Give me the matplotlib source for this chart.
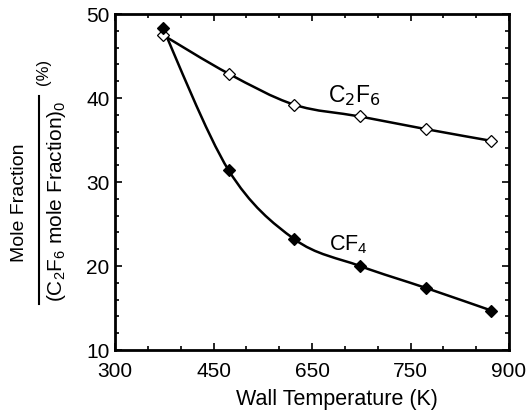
import numpy as np
import matplotlib.pyplot as plt
from matplotlib.path import Path
from matplotlib.patches import PathPatch
from matplotlib.lines import Line2D

plt.rcParams['font.family'] = ['Liberation Sans', 'DejaVu Sans']
plt.rcParams['mathtext.fontset'] = 'custom'
plt.rcParams['mathtext.rm'] = 'Liberation Sans'
plt.rcParams['mathtext.it'] = 'Liberation Sans:italic'
plt.rcParams['mathtext.default'] = 'regular'

# data
temp = [373, 473, 573, 673, 773, 873]
c2f6 = [47.5, 42.9, 39.2, 37.8, 36.3, 34.9]
cf4 = [48.3, 31.4, 23.2, 20.0, 17.4, 14.7]

xticks = [300, 450, 600, 750, 900]
xticklabels = ['300', '450', '650', '750', '900']
yticks = [10, 20, 30, 40, 50]


def smooth_path(x, y):
    # catmull-rom through the points, drawn as bezier segments
    pts = np.column_stack([x, y]).astype(float)
    ext = np.vstack([pts[0], pts, pts[-1]])
    verts = [pts[0]]
    codes = [Path.MOVETO]
    for i in range(1, len(ext) - 2):
        p0, p1, p2, p3 = ext[i - 1], ext[i], ext[i + 1], ext[i + 2]
        verts += [p1 + (p2 - p0) / 6, p2 - (p3 - p1) / 6, p2]
        codes += [Path.CURVE4] * 3
    return Path(verts, codes)


fig = plt.figure(figsize=(5.27, 4.14), dpi=100)
ax = fig.add_axes([115 / 527, 63 / 414, 394 / 527, 336 / 414])

for yy, face in [(c2f6, 'white'), (cf4, 'black')]:
    ax.add_patch(PathPatch(smooth_path(temp, yy), facecolor='none',
                           edgecolor='black', lw=1.8, zorder=2))
    ax.plot(temp, yy, 'D', ms=6, mfc=face, mec='black', mew=0.9,
            ls='none', zorder=3)

ax.text(664, 40.4, r'C$_{\mathsf{2}}$F$_{\mathsf{6}}$', fontsize=16.5,
        ha='center', va='center')
ax.text(656, 22.6, 'CF$_4$', fontsize=15.5, ha='center', va='center')

ax.set_xlim(300, 900)
ax.set_ylim(10, 50)
ax.set_xticks(xticks)
ax.set_xticklabels(xticklabels)
ax.set_xticks(np.arange(300, 901, 50), minor=True)
ax.set_yticks(yticks)
ax.set_yticks(np.arange(10, 51, 2), minor=True)
ax.tick_params(which='both', direction='in', top=True, right=True,
               labelsize=15, width=1.2)
ax.tick_params(which='major', length=5, pad=4)
ax.tick_params(axis='x', which='major', pad=8)
ax.tick_params(which='minor', length=3)
for s in ax.spines.values():
    s.set_linewidth(2)

ax.set_xlabel('Wall Temperature (K)', fontsize=15.5)
ax.xaxis.set_label_coords((337 - 115) / 394, -0.112)

# stacked fraction for the y label
fig.text(20 / 527, 1 - 203 / 414, 'Mole Fraction', rotation=90,
         fontsize=14, ha='center', va='center')
fig.text(57 / 527, 1 - 201 / 414, '(C$_2$F$_6$ mole Fraction)$_0$',
         rotation=90, fontsize=15, ha='center', va='center')
fig.text(43 / 527, 1 - 72 / 414, '(%)', rotation=90,
         fontsize=12, ha='center', va='center')
fig.add_artist(Line2D([39 / 527, 39 / 527], [1 - 97 / 414, 1 - 305 / 414],
                      transform=fig.transFigure, color='black', lw=1.5))

fig.savefig('out.png', dpi=100)
